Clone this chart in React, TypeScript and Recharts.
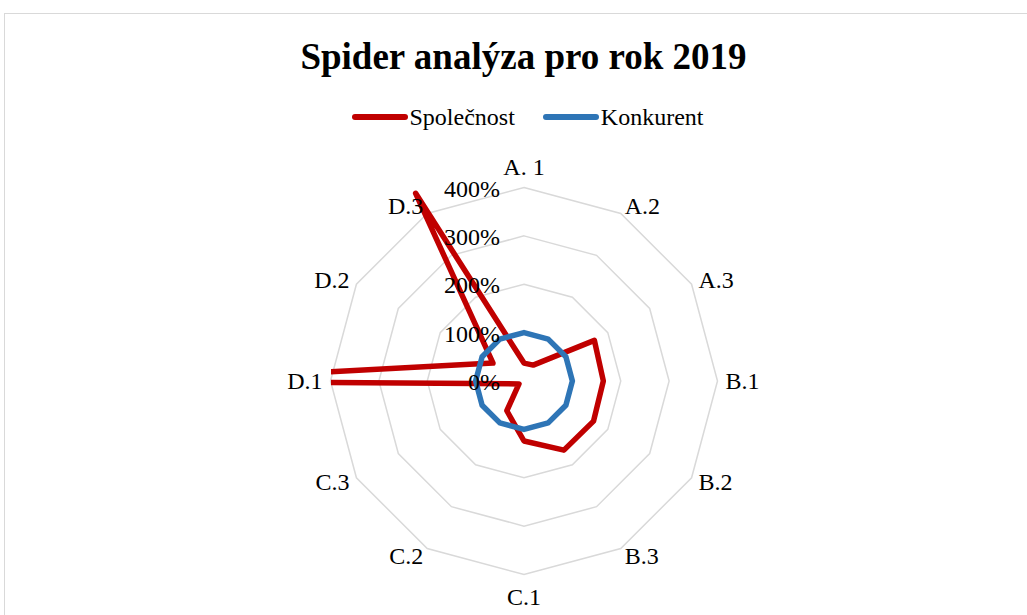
import React from 'react';
import {
  RadarChart,
  Radar,
  PolarGrid,
  PolarAngleAxis,
  PolarRadiusAxis,
  Legend,
} from 'recharts';

const categories = ['A. 1', 'A.2', 'A.3', 'B.1', 'B.2', 'B.3', 'C.1', 'C.2', 'C.3', 'D.1', 'D.2', 'D.3'];
const spolecnost = [0.37, 0.38, 1.68, 1.64, 1.66, 1.65, 1.24, 0.71, 0.12, 7.5, 0.74, 4.48];
const konkurent = [1, 1, 1, 1, 1, 1, 1, 1, 1, 1, 1, 1];
const radiusTicks = [0, 1, 2, 3, 4];
const seriesNames = ['Společnost', 'Konkurent'];

const data = categories.map((cat, i) => ({
  cat,
  spolecnost: spolecnost[i],
  konkurent: konkurent[i],
}));

const FONT = "'Liberation Serif', 'Times New Roman', serif";
const CX = 524;
const CY = 381;
const R = 193.5;

const AngleTick = (props: any) => {
  const { x, y, payload, textAnchor } = props;
  let dy = 0;
  if (textAnchor === 'middle') dy = y < CY ? -13 : 14;
  return (
    <text x={x} y={y + dy} textAnchor={textAnchor} dominantBaseline="central" fontSize={24} fontFamily={FONT} fill="#000">
      {payload.value}
    </text>
  );
};

const RadiusTick = (props: any) => {
  const { x, y, payload } = props;
  return (
    <text x={x - 24} y={y + 1} textAnchor="end" dominantBaseline="central" fontSize={24} fontFamily={FONT} fill="#000">
      {`${Math.round(payload.value * 100)}%`}
    </text>
  );
};

// polygon clipped to the plot area, like excel does
const clippedShape = (color: string, id: string) => (props: any) => {
  const pts = (props.points || []).map((p: any) => `${p.x},${p.y}`).join(' ');
  return (
    <g>
      <defs>
        <clipPath id={id}>
          <rect x={CX - R + 0.5} y={140} width={2 * R} height={460} />
        </clipPath>
      </defs>
      <polygon
        points={pts}
        fill="none"
        stroke={color}
        strokeWidth={5.5}
        strokeLinejoin="round"
        clipPath={`url(#${id})`}
      />
    </g>
  );
};

const LegendContent = (props: any) => {
  const items = [...(props.payload || [])].sort(
    (a: any, b: any) => seriesNames.indexOf(a.value) - seriesNames.indexOf(b.value)
  );
  return (
    <div style={{ display: 'flex', justifyContent: 'center', alignItems: 'center', fontFamily: FONT, fontSize: 24 }}>
      {items.map((entry: any, i: number) => (
        <div key={entry.value} style={{ display: 'flex', alignItems: 'center', marginLeft: i > 0 ? 28 : 0 }}>
          <svg width={56} height={10}>
            <line x1={3} y1={5} x2={53} y2={5} stroke={entry.color} strokeWidth={6} strokeLinecap="round" />
          </svg>
          <span style={{ marginLeft: 2, lineHeight: '24px' }}>{entry.value}</span>
        </div>
      ))}
    </div>
  );
};

export default function App() {
  return (
    <div style={{ position: 'absolute', left: 0, top: 0, width: 1027, height: 615, overflow: 'hidden', background: '#fff' }}>
      <div
        style={{
          position: 'absolute',
          left: 4,
          top: 13,
          width: 1040,
          height: 640,
          border: '1px solid #d9d9d9',
        }}
      />
      <div
        style={{
          position: 'absolute',
          left: 0,
          top: 38,
          width: 1047,
          textAlign: 'center',
          fontFamily: FONT,
          fontSize: 37,
          fontWeight: 'bold',
          lineHeight: '37px',
        }}
      >
        Spider analýza pro rok 2019
      </div>
      <div style={{ position: 'absolute', left: 0, top: 0 }}>
        <RadarChart width={1027} height={615} data={data} cx={CX} cy={CY} outerRadius={R} margin={{ top: 0, right: 0, bottom: 0, left: 0 }}>
          <PolarGrid gridType="polygon" radialLines={false} stroke="#d9d9d9" strokeWidth={1.5} />
          <PolarAngleAxis dataKey="cat" tick={AngleTick} tickLine={false} axisLine={false} />
          <Radar
            name={seriesNames[0]}
            dataKey="spolecnost"
            stroke="#c00000"
            fill="none"
            isAnimationActive={false}
            shape={clippedShape('#c00000', 'clip-red')}
          />
          <Radar
            name={seriesNames[1]}
            dataKey="konkurent"
            stroke="#2e75b6"
            fill="none"
            isAnimationActive={false}
            shape={clippedShape('#2e75b6', 'clip-blue')}
          />
          <PolarRadiusAxis
            angle={90}
            domain={[0, 4]}
            ticks={radiusTicks}
            allowDataOverflow
            tick={RadiusTick}
            tickLine={false}
            axisLine={false}
          />
          <Legend
            content={LegendContent}
            wrapperStyle={{ position: 'absolute', top: 105, left: 0, width: 1055, height: 24 }}
          />
        </RadarChart>
      </div>
    </div>
  );
}
